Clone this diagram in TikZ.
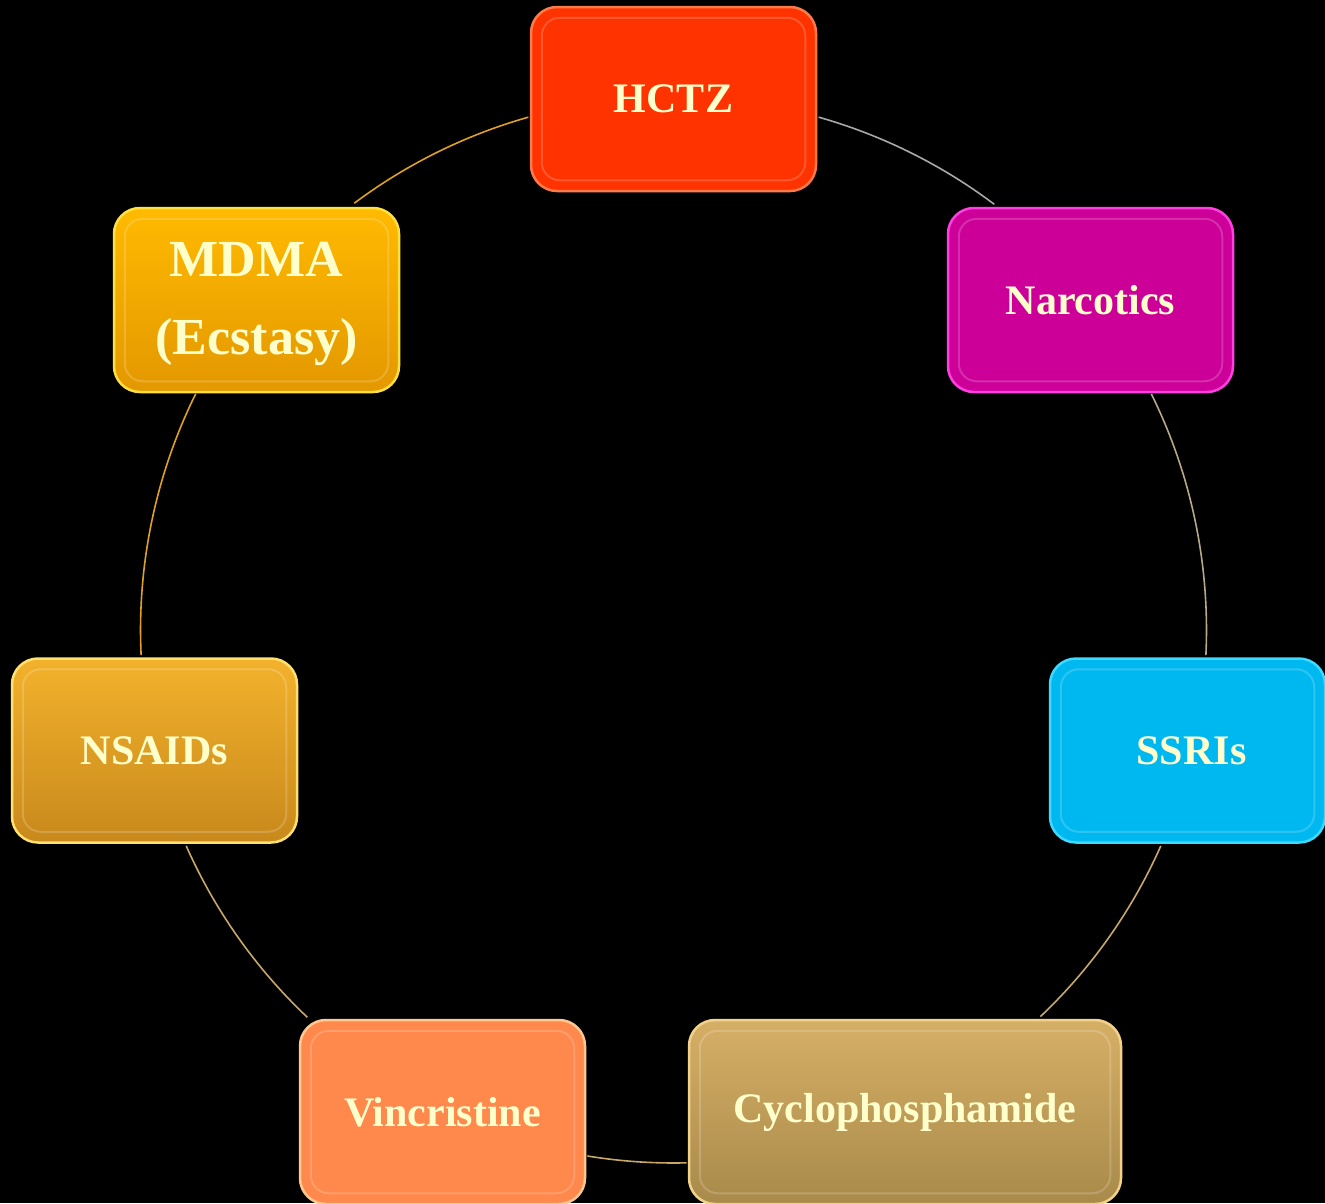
\documentclass[tikz,border=0pt]{standalone}
\usepackage{fontspec}
\setmainfont{Liberation Serif}
\usetikzlibrary{calc}
\definecolor{txtc}{HTML}{FFFFCC}
\definecolor{hctzc}{HTML}{FF3300}
\definecolor{hctzr}{HTML}{FF7A4A}
\definecolor{narcc}{HTML}{CC0099}
\definecolor{narcr}{HTML}{FF3FE0}
\definecolor{ssric}{HTML}{00B8F0}
\definecolor{ssrir}{HTML}{3FD8FF}
\definecolor{cyctop}{HTML}{D6AF66}
\definecolor{cycbot}{HTML}{A88A4A}
\definecolor{cycr}{HTML}{F2D28A}
\definecolor{vincc}{HTML}{FF884C}
\definecolor{vincr}{HTML}{FFC890}
\definecolor{nsatop}{HTML}{F3B22C}
\definecolor{nsabot}{HTML}{C8891C}
\definecolor{nsar}{HTML}{FFE070}
\definecolor{mdmtop}{HTML}{FFBA00}
\definecolor{mdmbot}{HTML}{E39800}
\definecolor{mdmr}{HTML}{FFE040}
\definecolor{lgold}{HTML}{E0A020}
\definecolor{lgray}{HTML}{A8A8A8}
\definecolor{lgt}{HTML}{B8A888}
\definecolor{ltan}{HTML}{C8A868}
\tikzset{
  drug/.style={rectangle, rounded corners=26pt, minimum width=285pt, minimum height=184pt,
    inner sep=0pt, text=txtc, align=center, line width=2.5pt,
    font=\fontsize{42}{50}\selectfont\bfseries},
  bevel/.style={draw=white, draw opacity=0.18, line width=2pt, rounded corners=18pt},
  link/.style={line width=1.6pt},
}
\newcommand{\bevelbox}[1]{%
  \draw[bevel] ($(#1.north west)+(12,-12)$) rectangle ($(#1.south east)+(-12,12)$);}
\begin{document}
\begin{tikzpicture}[x=1pt,y=1pt]
\fill[black] (0,0) rectangle (1325,-1203);
\useasboundingbox (0,0) rectangle (1325,-1203);
\coordinate (c) at (673.5,-630);
% connectors (circle segments)
\coordinate (a1) at ($(c)+(74.2:533)$);
\coordinate (a2) at ($(c)+(26.3:533)$);
\coordinate (a3) at ($(c)+(-23.9:533)$);
\coordinate (a4) at ($(c)+(-88.6:533)$);
\coordinate (a5) at ($(c)+(-133.4:533)$);
\coordinate (a6) at ($(c)+(182.7:533)$);
\coordinate (a7) at ($(c)+(126.8:533)$);
\draw[link, lgray] (a1) arc[start angle=74.2, end angle=53, radius=533];
\draw[link, lgt] (a2) arc[start angle=26.3, end angle=-2.7, radius=533];
\draw[link, ltan] (a3) arc[start angle=-23.9, end angle=-46.5, radius=533];
\draw[link, ltan] (a4) arc[start angle=-88.6, end angle=-99.3, radius=533];
\draw[link, ltan] (a5) arc[start angle=-133.4, end angle=-156.1, radius=533];
\draw[link, lgold] (a6) arc[start angle=182.7, end angle=153.7, radius=533];
\draw[link, lgold] (a7) arc[start angle=126.8, end angle=105.8, radius=533];
% nodes
\node[drug, fill=hctzc, draw=hctzr] (hctz) at (673.5,-99) {HCTZ};
\node[drug, fill=narcc, draw=narcr] (narc) at (1090.5,-300) {Narcotics};
\node[drug, fill=ssric, draw=ssrir, minimum width=275pt] (ssri) at (1187.5,-750.5) {\hspace*{8pt}SSRIs};
\node[drug, top color=cyctop, bottom color=cycbot, draw=cycr, minimum width=432pt] (cyc) at (905,-1112) {\raisebox{-3pt}{Cyclophosphamide}};
\node[drug, fill=vincc, draw=vincr] (vinc) at (442.5,-1112) {Vincristine};
\node[drug, top color=nsatop, bottom color=nsabot, draw=nsar] (nsaid) at (154.5,-750.5) {NSAIDs};
\node[drug, top color=mdmtop, bottom color=mdmbot, draw=mdmr,
  font=\fontsize{52}{78}\selectfont\bfseries] (mdma) at (256.5,-300)
  {\raisebox{-4pt}{\begin{tabular}{@{}c@{}}MDMA\\(Ecstasy)\end{tabular}}};
\bevelbox{hctz}\bevelbox{narc}\bevelbox{ssri}\bevelbox{cyc}\bevelbox{vinc}\bevelbox{nsaid}\bevelbox{mdma}
\end{tikzpicture}
\end{document}
